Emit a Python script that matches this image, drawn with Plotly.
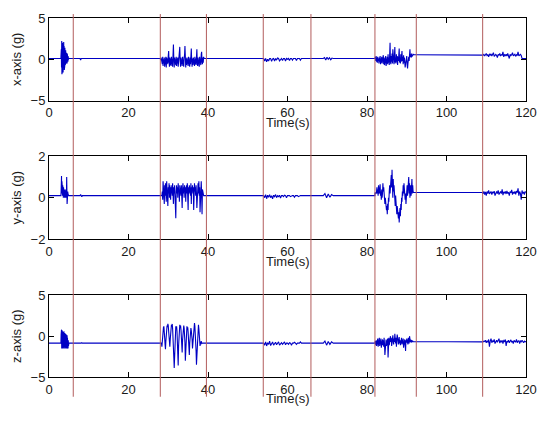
import numpy as np
import plotly.graph_objects as go
from plotly.subplots import make_subplots

# ---------------- data ----------------
TIME_RANGE = [0, 120]
X_TICKS = [0, 20, 40, 60, 80, 100, 120]
EVENT_TIMES = [6.1, 28.0, 39.6, 53.9, 65.9, 82.0, 92.4, 109.1]

PANEL_LABELS = ["x-axis (g)", "y-axis (g)", "z-axis (g)"]
PANEL_RANGES = [[-5, 5], [-2, 2], [-5, 5]]
PANEL_TICKS = [[-5, 0, 5], [-2, 0, 2], [-5, 0, 5]]

# ---- x-axis acceleration ----
acc_x_burst1 = [0.3, -0.5, 1.2, -1.0, 2.2, -1.8, 1.9, -1.5, 2.0, -1.2, 1.8, -1.6, 1.5, -1.0, 2.1, -0.8,
                1.6, -1.3, 1.2, -0.9, 1.4, -0.7, 1.0, -0.6, 1.1, -0.5, 0.9, -0.4, 0.8, -0.3, 0.6, -0.5,
                0.7, -0.2, 0.5, -0.3, 0.4, -0.1, 0.2, 0.0, 0.1]
acc_x_blip = [0.1, -0.1, 0.1, 0.05, 0.1]
acc_x_burst2 = [0.0, -0.1, 0.2, -0.4, 0.1, -0.6, 0.3, -0.8, 0.0, -0.5,
                0.2, -0.9, 0.1, -0.7, 0.3, -1.0, 0.2, -0.6, 0.1, -0.5,
                0.4, 1.0, -0.3, -0.9, 0.2, -0.7, 0.1, -0.8, 0.3, -0.5,
                0.2, -0.9, 0.5, 1.8, 0.0, -1.0, 0.2, -0.6, 0.1, -0.7,
                0.3, -0.8, 0.1, -0.5, 0.2, -0.9, 0.0, -0.6, 0.3, 1.5,
                -0.2, -0.9, 0.2, -0.7, 0.1, -0.8, 0.3, -0.5, 0.1, -0.9,
                0.2, 0.5, 1.6, -0.3, -1.0, 0.1, -0.7, 0.2, -0.6, 0.0,
                -0.8, 0.3, -0.5, 0.1, -0.9, 0.2, -0.6, 0.4, 1.3, -0.2,
                -0.9, 0.1, -0.7, 0.2, -0.5, 0.0, -0.8, 0.3, -0.6, 0.1,
                -0.7, 0.5, 1.2, -0.4, -0.8, 0.2, -0.6, 0.1, -0.9, 0.3,
                -0.5, 0.1, -0.7, 0.6, 0.9, -0.3, -0.6, 0.2, -0.4, 0.3, 0.1]
acc_x_noise1 = [0.1, -0.2, 0.1, -0.3, 0.0, -0.2, 0.1, 0.1, -0.25, 0.05, 0.1, -0.2, 0.1, -0.1, 0.15,
                0.1, -0.2, 0.05, 0.1, -0.15, 0.1, 0.1, -0.2, 0.1, 0.0, 0.1, -0.15, 0.1, 0.1, -0.1,
                0.1, 0.1, 0.1, -0.15, 0.1, 0.1, 0.1, -0.1, 0.1, 0.1, 0.1, 0.1, 0.1, 0.1, 0.1]
acc_x_noise2 = [0.1, 0.2, -0.1, 0.25, 0.0, 0.2, -0.05, 0.15, 0.1]
acc_x_burst3 = [0.1, 0.3, -0.2, 0.4, -0.3, 0.2, -0.4, 0.3, -0.2, 0.1,
                -0.5, 0.2, -0.3, 0.4, -0.6, 0.1, -0.4, 0.3, -0.5, 0.2,
                -0.3, 0.5, -0.6, 0.2, -0.7, 0.3, -0.4, 0.4, -0.8, 0.1,
                -0.5, 0.3, -0.6, 0.6, -0.4, 0.2, -0.7, 0.5, 2.0, -0.3,
                -0.6, 0.4, -0.3, 0.7, -0.5, 1.2, -0.2, 0.5, -0.6, 0.3,
                1.5, -0.4, 0.2, -0.5, 0.6, -0.3, 0.4, -0.7, 0.3, -0.2,
                0.5, 1.3, -0.4, 0.2, -0.5, 0.6, -0.3, 0.4, 1.0, -0.2,
                0.3, -0.6, 0.5, -0.4, 0.2, -0.8, -1.0, -0.6, 0.1, -0.3,
                0.4, -0.7, -1.1, -0.5, 0.2, 0.3, -0.2, 0.5, 1.2, 0.3,
                0.6, 0.2, 0.7, 0.3, 0.5, 0.4, 0.6, 0.55, 0.55, 0.55, 0.55]
acc_x_burst4 = [0.55, 0.5, 0.6, 0.4, 0.55, 0.7, 0.45, 0.55, 0.3, 0.6, 0.5, 0.65, 0.4, 0.55, 0.8,
                0.35, 0.5, 0.6, 0.45, 0.2, 0.6, 0.5, 0.7, 0.4, 0.55, 0.5, 0.9, 0.3, 0.55, 0.45,
                0.6, 0.4, 0.7, 0.5, 0.1, 0.6, 0.45, 0.55, 0.8, 0.4, 0.5, 0.6, 0.35, 0.55, 0.5,
                0.9, 0.4, 0.55, 0.6, 0.45, 0.1, 0.1, 0.1, 0.1, 0.1, 0.1]
acc_x_levels = {"rest": 0.1, "hold": 0.55}

# ---- y-axis acceleration ----
acc_y_burst1 = [0.1, 0.3, 0.6, 1.05, 0.2, 0.8, 0.3, 0.5, 0.1, 0.6, 0.2, 0.4, 0.0, 0.5, 0.2, 0.3,
                0.1, 0.4, 0.0, 0.3, 0.2, 0.1, 0.4, 0.0, 0.3, 0.1, 0.2, 0.0, 0.3, 1.0, 0.1, -0.3,
                0.2, 0.0, 0.3, 0.1, 0.2, 0.1, 0.15, 0.1, 0.1]
acc_y_blip = [0.1, 0.16, 0.1, 0.05, 0.1]
acc_y_burst2 = [0.1, 0.1, 0.1, 0.1, 0.1, 0.3, -0.1, 0.8, 0.2, 0.7,
                -0.3, 0.6, 0.1, 0.7, 0.3, -0.2, 0.8, 0.4, 0.6, -0.4,
                0.5, 0.2, 0.7, 0.0, 0.6, 0.3, -0.1, 0.5, 0.2, 0.6,
                0.1, 0.7, 0.3, -0.3, 0.5, 0.2, 0.6, 0.0, 0.4, -1.0,
                0.3, 0.6, 0.2, 0.5, 0.0, 0.7, 0.3, 0.4, -0.2, 0.6,
                0.3, 0.5, 0.1, 0.6, 0.2, -0.5, 0.4, 0.7, 0.2, 0.5,
                0.0, 0.6, 0.3, 0.5, -0.2, 0.4, 0.6, 0.2, 0.7, 0.3,
                -0.6, 0.5, 0.2, 0.6, 0.3, 0.4, 0.1, 0.7, -0.3, 0.5,
                0.3, 0.6, 0.2, 0.5, -0.6, 0.4, 0.7, 0.3, 0.5, 0.1,
                0.6, 0.2, -0.5, 0.5, 0.3, 0.7, 0.2, 0.8, 0.1, 0.5,
                -0.7, 0.6, 0.3, 0.8, 0.2, -0.8, 0.4, 0.3, 0.1, 0.1, 0.1]
acc_y_noise1 = [0.1, 0.0, 0.15, -0.05, 0.12, 0.02, 0.15, 0.0, 0.1, -0.05, 0.12, 0.05, 0.15, 0.0, 0.1,
                0.05, 0.12, -0.02, 0.1, 0.1, 0.05, 0.12, 0.1, 0.0, 0.1, 0.1, 0.1, 0.05, 0.1, 0.1,
                0.1, 0.02, 0.1, 0.1, 0.1, 0.05, 0.1, 0.1, 0.1, 0.1, 0.1, 0.1, 0.1, 0.1, 0.1]
acc_y_noise2 = [0.1, 0.2, 0.0, 0.18, 0.02, 0.15, 0.1]
acc_y_burst3 = [0.25, 0.2, 0.25, 0.2, 0.3, 0.5, 0.2, 0.4, 0.1, 0.6,
                0.3, 0.2, 0.5, 0.65, 0.1, 0.3, -0.1, 0.4, 0.0, 0.2,
                0.7, 0.3, 0.5, -0.1, 0.2, -0.3, 0.0, -0.5, -0.2, -0.6,
                -0.4, -0.8, -0.3, -0.6, 0.0, -0.2, 0.3, 0.6, 0.2, 0.9,
                0.4, 1.1, 0.5, 1.35, 0.6, 0.0, 0.9, 0.3, 0.6, -0.1,
                0.3, -0.4, 0.1, -0.6, -0.2, -0.8, -0.4, -0.9, -0.6, -1.0,
                -0.7, -1.2, -0.8, -0.5, -0.9, -0.3, -0.6, 0.0, -0.2, 0.3,
                0.1, 0.6, 0.2, 0.7, 0.3, 0.5, -0.1, 0.2, -0.3, 0.0,
                0.3, 0.6, 0.1, 0.8, 0.4, 1.0, 0.2, 0.7, 0.0, 0.4,
                0.6, 0.1, 0.5, 0.9, 0.2, 0.6, 0.3, 0.25, 0.25, 0.25, 0.25]
acc_y_burst4 = [0.25, 0.2, 0.3, 0.15, 0.28, 0.1, 0.3, 0.2, 0.35, 0.18, 0.25, 0.3, 0.15, 0.28, 0.22,
                0.32, 0.1, 0.26, 0.3, 0.2, 0.35, 0.15, 0.25, 0.3, 0.2, 0.4, 0.12, 0.28, 0.22, 0.3,
                0.18, 0.33, 0.2, 0.26, 0.1, 0.3, 0.24, 0.38, 0.15, 0.28, 0.2, 0.3, 0.16, 0.32, 0.25,
                0.45, 0.1, 0.3, 0.2, -0.1, 0.35, 0.2, 0.28, 0.15, 0.3, 0.25]
acc_y_levels = {"rest": 0.1, "hold": 0.25}

# ---- z-axis acceleration ----
acc_z_burst1 = [-0.85, 0.2, -1.4, 0.8, -1.5, 0.6, -1.3, 0.7, -1.5, 0.4, -1.2, 0.5, -1.4, 0.3, -1.5,
                0.6, -1.3, 0.2, -1.4, 0.4, -1.5, 0.1, -1.3, 0.3, -1.4, 0.0, -1.5, 0.2, -1.3, -0.1,
                -1.5, 0.1, -1.4, -0.2, -1.5, -0.3, -1.4, -0.5, -1.2, -0.9, -0.85]
acc_z_blip = [-0.85, -0.9, -0.85, -0.8, -0.85]
acc_z_burst2 = [-0.85, -0.85, -0.85, -0.85, -1.3, -0.4, 0.4, 0.9, 1.1, 1.2,
                0.8, -0.2, -1.0, -1.6, -0.6, 0.3, 0.9, 1.3, 1.1, 1.5,
                1.3, 0.6, -0.3, -0.9, -1.3, -0.4, 0.5, 1.1, 1.4, 1.2,
                1.5, 0.9, 0.1, -1.2, -2.6, -3.9, -1.5, 0.2, 0.9, 1.2,
                1.0, 1.2, 0.6, -0.4, -2.0, -3.6, -1.2, 0.3, 1.0, 1.4,
                1.1, 1.3, 0.8, -0.2, -1.1, -2.0, -0.5, 0.6, 1.1, 1.3,
                1.0, 0.4, -0.8, -3.0, -1.5, 0.1, 0.8, 1.2, 0.9, 1.1,
                0.5, -0.5, -1.5, -2.3, -0.9, 0.2, 0.8, 1.0, 0.7, 0.3,
                -0.4, -1.5, -0.8, 0.3, 1.0, 1.4, 1.6, 1.2, 0.5, -0.6,
                -1.8, -3.5, -2.0, -0.3, 0.5, 1.1, 1.4, 0.9, 0.2, -0.6,
                -1.2, -0.7, -1.0, -0.6, -0.9, -0.85, -0.85, -0.85, -0.85, -0.85, -0.85]
acc_z_noise1 = [-0.85, -1.1, -0.7, -1.2, -0.8, -1.0, -0.6, -1.15, -0.85, -0.7, -1.1, -0.85, -0.75, -1.05,
                -0.9, -0.7, -1.1, -0.85, -0.8, -1.0, -0.85, -0.7, -1.05, -0.85, -0.85, -1.0, -0.8,
                -0.85, -1.1, -0.85, -0.85, -0.75, -0.85, -1.0, -0.85, -0.85, -0.85, -0.7, -0.85,
                -0.85, -0.85, -0.85, -0.85, -0.85, -0.85]
acc_z_noise2 = [-0.85, -0.6, -1.1, -0.65, -1.0, -0.7, -0.85]
acc_z_burst3 = [-0.85, -0.6, -1.1, -0.5, -1.2, -0.4, -1.0, -0.3, -1.3, -0.6,
                -0.9, -0.2, -1.2, -0.5, -1.0, -0.3, -1.4, -0.6, -0.9, -0.4,
                -1.1, -0.5, -1.3, -0.2, -0.9, -2.3, -0.6, -1.0, -0.4, -1.2,
                -0.5, -0.9, -0.3, -2.6, -0.8, -0.2, -1.1, -0.4, -0.9, 0.0,
                -0.7, -0.2, -1.2, -0.4, -0.8, 0.1, -0.6, -1.0, -0.3, -0.7,
                0.3, -0.5, -0.9, -0.2, -1.3, -0.4, 0.2, -0.8, -0.3, -1.0,
                -0.4, -0.1, -0.9, -0.5, -1.1, -0.3, -0.7, -0.2, -1.0, -0.5,
                -0.8, -0.3, -1.4, -0.6, -1.0, -0.4, -0.9, -1.8, -0.5, -0.8,
                -0.3, -0.7, -0.4, -1.0, -0.2, -0.6, -0.9, 0.0, -0.5, -0.7,
                -0.4, -0.8, -0.5, -0.6, -0.7, -0.6, -0.65, -0.65, -0.65, -0.65, -0.65]
acc_z_burst4 = [-0.65, -0.7, -0.6, -0.65, -0.5, -0.8, -0.6, -0.7, -0.4, -1.3, -0.6, -0.3, -0.8, -0.55,
                -0.7, -0.4, -0.9, -0.6, -0.5, -0.75, -0.6, -0.3, -0.85, -0.6, -0.7, -0.5, -0.9, -0.55,
                -0.65, -0.4, -1.2, -0.6, -0.7, -0.5, -0.8, -0.6, -0.45, -0.75, -0.6, -0.9, -0.5, -0.65,
                -0.7, -0.4, -0.8, -0.6, -0.55, -0.9, -0.6, -0.7, -0.5, -0.65, -0.8, -0.6, -0.7, -0.65]
acc_z_levels = {"rest": -0.85, "hold": -0.65}

# time spans (s) of each recorded piece
SPAN_BURST1 = (3.0, 5.0)
SPAN_BLIP = (7.8, 8.4)
SPAN_BURST2 = (28.0, 39.0)
SPAN_NOISE1 = (54.0, 65.0)
SPAN_NOISE2 = (69.0, 71.5)
SPAN_BURST3 = (82.0, 92.0)
SPAN_BURST4 = (109.0, 120.0)


def assemble(levels, b1, blip, b2, n1, n2, b3, b4):
    rest, hold = levels["rest"], levels["hold"]
    pieces = [
        ([0.0, SPAN_BURST1[0]], [rest, rest]),
        (np.linspace(*SPAN_BURST1, len(b1)), b1),
        ([SPAN_BURST1[1], SPAN_BLIP[0]], [rest, rest]),
        (np.linspace(*SPAN_BLIP, len(blip)), blip),
        ([SPAN_BLIP[1], SPAN_BURST2[0]], [rest, rest]),
        (np.linspace(*SPAN_BURST2, len(b2)), b2),
        ([SPAN_BURST2[1], SPAN_NOISE1[0]], [rest, rest]),
        (np.linspace(*SPAN_NOISE1, len(n1)), n1),
        ([SPAN_NOISE1[1], SPAN_NOISE2[0]], [rest, rest]),
        (np.linspace(*SPAN_NOISE2, len(n2)), n2),
        ([SPAN_NOISE2[1], SPAN_BURST3[0]], [rest, rest]),
        (np.linspace(*SPAN_BURST3, len(b3)), b3),
        ([SPAN_BURST3[1], SPAN_BURST4[0]], [hold, hold]),
        (np.linspace(*SPAN_BURST4, len(b4)), b4),
    ]
    t = np.concatenate([np.asarray(p[0], float) for p in pieces])
    v = np.concatenate([np.asarray(p[1], float) for p in pieces])
    return t, v


series = [
    assemble(acc_x_levels, acc_x_burst1, acc_x_blip, acc_x_burst2, acc_x_noise1, acc_x_noise2,
             acc_x_burst3, acc_x_burst4),
    assemble(acc_y_levels, acc_y_burst1, acc_y_blip, acc_y_burst2, acc_y_noise1, acc_y_noise2,
             acc_y_burst3, acc_y_burst4),
    assemble(acc_z_levels, acc_z_burst1, acc_z_blip, acc_z_burst2, acc_z_noise1, acc_z_noise2,
             acc_z_burst3, acc_z_burst4),
]

# ---------------- figure ----------------
# (the page body keeps its default 8px margin on every side, so the figure is sized
#  so that figure + margins fit the 548x421 window without overflowing)
W, H = 532, 405
M_L, M_R, M_T, M_B = 41, 3, 4, 36
domains = [[0.770, 1.0], [0.3844, 0.6145], [0.0, 0.2274]]

fig = make_subplots(rows=3, cols=1)
FONT = "Arial, Liberation Sans, Helvetica, sans-serif"
TXT = "#1a1a1a"

for i, (t, v) in enumerate(series):
    fig.add_trace(go.Scatter(x=t, y=v, mode="lines",
                             line=dict(color="#0000c4", width=1.1),
                             showlegend=False, hoverinfo="skip"),
                  row=i + 1, col=1)
    sfx = "" if i == 0 else str(i + 1)
    fig.layout["xaxis" + sfx].update(
        domain=[0, 1], range=TIME_RANGE, tickvals=X_TICKS, ticks="inside", ticklen=5,
        tickcolor="black", showline=True, linecolor="black", linewidth=1, mirror="ticks",
        showgrid=False, zeroline=False, ticklabeloverflow="allow",
        tickfont=dict(family=FONT, size=13, color=TXT))
    fig.layout["yaxis" + sfx].update(
        domain=domains[i], range=PANEL_RANGES[i], tickvals=PANEL_TICKS[i], ticks="inside",
        ticklen=5, tickcolor="black", showline=True, linecolor="black", linewidth=1,
        mirror="ticks", showgrid=False, zeroline=False,
        tickfont=dict(family=FONT, size=13, color=TXT),
        title=dict(text=PANEL_LABELS[i], font=dict(family=FONT, size=13, color=TXT), standoff=6))
    fig.add_annotation(text="Time(s)", xref=("x" + sfx + " domain"), yref=("y" + sfx + " domain"),
                       x=0.5, y=0, yshift=-22, xanchor="center", yanchor="middle",
                       showarrow=False, font=dict(family=FONT, size=13, color=TXT))

for et in EVENT_TIMES:
    fig.add_shape(type="line", xref="x", yref="paper", x0=et, x1=et, y0=-0.055, y1=1.011,
                  line=dict(color="#b25c5c", width=1), layer="above")

fig.update_layout(width=W, height=H, margin=dict(l=M_L, r=M_R, t=M_T, b=M_B),
                  paper_bgcolor="white", plot_bgcolor="white", showlegend=False)

fig.write_html("out.html", config={"displayModeBar": False})
